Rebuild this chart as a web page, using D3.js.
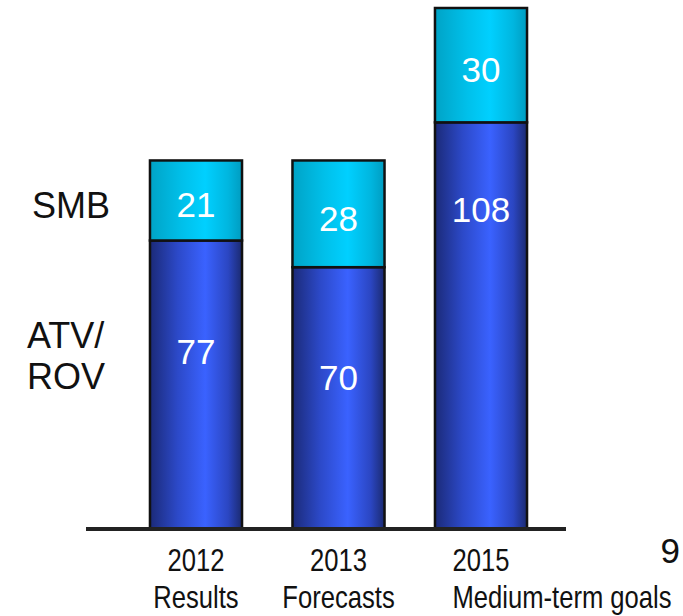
<!DOCTYPE html>
<html>
<head>
<meta charset="utf-8">
<script src="https://cdn.jsdelivr.net/npm/d3@7/dist/d3.min.js"></script>
<style>
  html, body { margin: 0; padding: 0; background: #ffffff; }
  svg { display: block; }
</style>
</head>
<body>
<svg id="chart" width="683" height="616"></svg>
<script>
// ---- data ----
const years = ["2012", "2013", "2015"];
const subLabels = ["Results", "Forecasts", "Medium-term goals"];
const atvRov = [77, 70, 108];
const smb = [21, 28, 30];
const seriesNames = ["SMB", "ATV/ROV"];
const pageNumber = "9";

// ---- layout ----
const W = 683, H = 616;
const axisY = 529;
const atvLabelDrop = [123, 123, 100]; // px below top of ATV/ROV segment (baseline)
const subAnchor = ["middle", "middle", "start"];
const narrow = 0.8;

const svg = d3.select("#chart");
const defs = svg.append("defs");

function hGrad(id, stops) {
  const g = defs.append("linearGradient").attr("id", id)
    .attr("x1", "0%").attr("x2", "100%").attr("y1", "0%").attr("y2", "0%");
  stops.forEach(s => g.append("stop").attr("offset", s[0]).attr("stop-color", s[1]));
}
hGrad("gBlue", [["0%", "#1b2a78"], ["30%", "#2c49c8"], ["60%", "#3a62ff"], ["85%", "#2b46c2"], ["100%", "#1b2a70"]]);
hGrad("gCyan", [["0%", "#00a3c6"], ["35%", "#00c0ea"], ["60%", "#00d0ff"], ["85%", "#00b6df"], ["100%", "#009cc0"]]);

const x = d3.scaleBand().domain(years).range([124.75, 552.25]).paddingInner(0.354).paddingOuter(0.177);
const y = d3.scaleLinear().domain([0, 138]).range([534, 8]);

const data = years.map((yr, i) => ({ yr, atv: atvRov[i], smb: smb[i], i }));

const bars = svg.append("g");
// ATV/ROV segments
bars.selectAll("rect.atv").data(data).enter().append("rect")
  .attr("class", "atv")
  .attr("x", d => x(d.yr))
  .attr("width", x.bandwidth())
  .attr("y", d => y(d.atv))
  .attr("height", d => y(0) - y(d.atv))
  .attr("fill", "url(#gBlue)")
  .attr("stroke", "#111")
  .attr("stroke-width", 2.5);
// SMB segments
bars.selectAll("rect.smb").data(data).enter().append("rect")
  .attr("class", "smb")
  .attr("x", d => x(d.yr))
  .attr("width", x.bandwidth())
  .attr("y", d => y(d.atv + d.smb))
  .attr("height", d => y(d.atv) - y(d.atv + d.smb))
  .attr("fill", "url(#gCyan)")
  .attr("stroke", "#111")
  .attr("stroke-width", 2.5);

// axis line (covers the bar bottoms)
svg.append("rect")
  .attr("x", 86).attr("width", 480)
  .attr("y", axisY + 2).attr("height", 8)
  .attr("fill", "#ffffff");
svg.append("rect")
  .attr("x", 86).attr("width", 480)
  .attr("y", axisY - 2).attr("height", 4)
  .attr("fill", "#222");

// value labels
const valFont = "'Liberation Sans', Arial, sans-serif";
svg.selectAll("text.smbv").data(data).enter().append("text")
  .attr("x", d => x(d.yr) + x.bandwidth() / 2)
  .attr("y", d => (y(d.atv) + y(d.atv + d.smb)) / 2 + 17)
  .attr("text-anchor", "middle")
  .attr("font-family", valFont).attr("font-size", 35)
  .attr("fill", "#ffffff")
  .text(d => d.smb);
svg.selectAll("text.atvv").data(data).enter().append("text")
  .attr("x", d => x(d.yr) + x.bandwidth() / 2)
  .attr("y", d => y(d.atv) + atvLabelDrop[d.i])
  .attr("text-anchor", "middle")
  .attr("font-family", valFont).attr("font-size", 35)
  .attr("fill", "#ffffff")
  .text(d => d.atv);

// series labels (left)
svg.append("text").attr("x", 32).attr("y", 218)
  .attr("font-family", valFont).attr("font-size", 36).attr("fill", "#111")
  .text(seriesNames[0]);
const atvText = svg.append("text").attr("font-family", valFont).attr("font-size", 36).attr("fill", "#111");
atvText.append("tspan").attr("x", 27).attr("y", 348).text("ATV/");
atvText.append("tspan").attr("x", 27).attr("y", 389).text("ROV");

// category labels (condensed sans)
data.forEach(d => {
  const cx = x(d.yr) + x.bandwidth() / 2;
  const gy = svg.append("g").attr("transform", `translate(${cx},571) scale(${narrow},1)`);
  const yt = gy.append("text")
    .attr("text-anchor", "middle")
    .attr("font-family", valFont).attr("font-size", 32).attr("fill", "#111")
    .text(d.yr);
  const yw = yt.node().getComputedTextLength() * narrow;
  const sx = subAnchor[d.i] === "start" ? cx - yw / 2 : cx;
  svg.append("g").attr("transform", `translate(${sx},608) scale(${narrow},1)`)
    .append("text")
    .attr("text-anchor", subAnchor[d.i])
    .attr("font-family", valFont).attr("font-size", 32).attr("fill", "#111")
    .text(subLabels[d.i]);
});

// page number
svg.append("text").attr("x", 680).attr("y", 563)
  .attr("text-anchor", "end")
  .attr("font-family", valFont).attr("font-size", 35).attr("fill", "#111")
  .text(pageNumber);
</script>
</body>
</html>
